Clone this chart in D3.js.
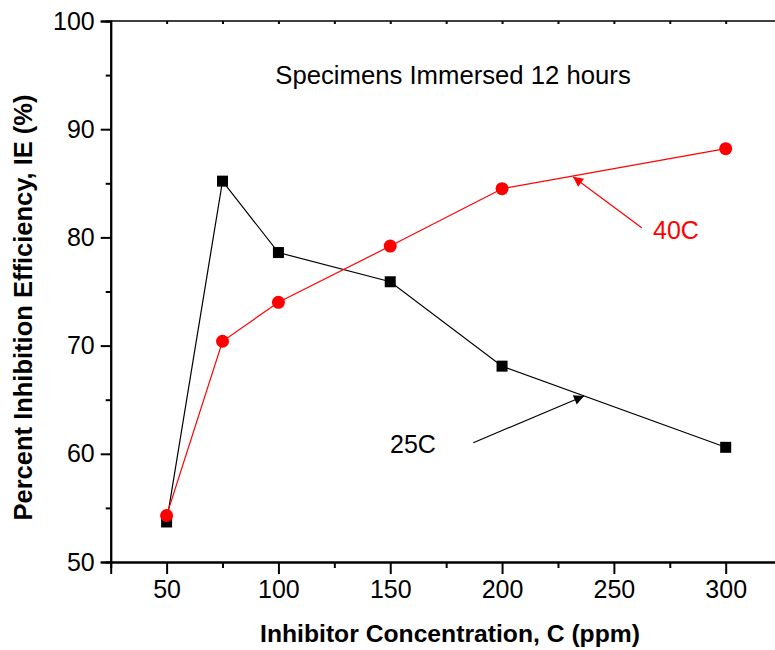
<!DOCTYPE html>
<html><head><meta charset="utf-8">
<script src="https://cdn.jsdelivr.net/npm/d3@7"></script>
<style>body{margin:0;background:#fff}svg{display:block}text{font-family:"Liberation Sans",Arial,sans-serif}</style>
</head><body>
<script>
const concentrations = [50, 75, 100, 150, 200, 300];
const ie25C = [53.7, 85.2, 78.6, 75.9, 68.1, 60.6];
const ie40C = [54.3, 70.4, 74.0, 79.2, 84.5, 88.2];
const xTicks = [50, 100, 150, 200, 250, 300];
const yTicks = [50, 60, 70, 80, 90, 100];

(function(){
const W = 775, H = 650;
const svg = d3.select("body").append("svg").attr("width", W).attr("height", H);
const x = d3.scaleLinear().domain([25, 325]).range([110.7, 781.6]);
const y = d3.scaleLinear().domain([50, 100]).range([562, 21]);

// axes
const xAxis = d3.axisBottom(x).tickValues(xTicks).tickSize(12).tickPadding(6).tickFormat(d3.format("d"));
svg.append("g").attr("transform", `translate(0,${y(50)})`).call(xAxis);
const xMinor = d3.axisBottom(x).tickValues(d3.range(75, 326, 50)).tickSize(6).tickFormat("");
svg.append("g").attr("transform", `translate(0,${y(50)})`).call(xMinor);

const yAxis = d3.axisLeft(y).tickValues(yTicks).tickSize(10).tickPadding(6);
svg.append("g").attr("transform", `translate(${x(25)},0)`).call(yAxis);
const yMinor = d3.axisLeft(y).tickValues(d3.range(55, 100, 10)).tickSize(5).tickFormat("");
svg.append("g").attr("transform", `translate(${x(25)},0)`).call(yMinor);

// top axis with small inward ticks
const topAx = d3.axisBottom(x).tickValues(d3.range(50, 326, 25)).tickSize(3).tickFormat("");
svg.append("g").attr("class","topax").attr("transform", `translate(0,${y(100)})`).call(topAx);

svg.selectAll(".domain").attr("stroke", "#000").attr("stroke-width", 2);
svg.selectAll(".tick line").attr("stroke", "#000").attr("stroke-width", 2);
svg.select(".topax .domain").attr("stroke-width", 1.6).attr("d", `M${x(25)},0H${x(325)}`);
svg.selectAll(".tick text").attr("font-size", 25).attr("fill", "#000").attr("font-family", '"Liberation Sans",Arial,sans-serif');

// axis titles
svg.append("text").attr("x", 450).attr("y", 641.5).attr("text-anchor", "middle")
  .attr("font-size", 24.7).attr("font-weight", "bold").text("Inhibitor Concentration, C (ppm)");
svg.append("text").attr("transform", "translate(32,307.5) rotate(-90)").attr("text-anchor", "middle")
  .attr("font-size", 25.5).attr("font-weight", "bold").text("Percent Inhibition Efficiency, IE (%)");

svg.append("text").attr("x", 453).attr("y", 84).attr("text-anchor", "middle")
  .attr("font-size", 25.7).text("Specimens Immersed 12 hours");

// series
const line = (vals) => d3.line().x((d, i) => x(concentrations[i])).y(d => y(d))(vals);
svg.append("path").attr("d", line(ie25C)).attr("fill", "none").attr("stroke", "#000").attr("stroke-width", 1.2);
svg.append("path").attr("d", line(ie40C)).attr("fill", "none").attr("stroke", "#ff0000").attr("stroke-width", 1.2);
svg.selectAll(".sq").data(ie25C).enter().append("rect")
  .attr("x", (d, i) => x(concentrations[i]) - 5.5).attr("y", d => y(d) - 5.5)
  .attr("width", 11).attr("height", 11).attr("fill", "#000");
svg.selectAll(".ci").data(ie40C).enter().append("circle")
  .attr("cx", (d, i) => x(concentrations[i])).attr("cy", d => y(d)).attr("r", 6.5).attr("fill", "#ff0000");

// annotations
const defs = svg.append("defs");
function marker(id, color) {
  defs.append("marker").attr("id", id).attr("viewBox", "0 0 10 10").attr("refX", 10).attr("refY", 5)
    .attr("markerWidth", 15).attr("markerHeight", 10).attr("markerUnits", "userSpaceOnUse").attr("orient", "auto")
    .append("path").attr("d", "M0,0L10,5L0,10Z").attr("fill", color);
}
marker("ab", "#000"); marker("ar", "#ff0000");
svg.append("line").attr("x1", 473.3).attr("y1", 442.7).attr("x2", 584).attr("y2", 396)
  .attr("stroke", "#000").attr("stroke-width", 1.2).attr("marker-end", "url(#ab)");
svg.append("line").attr("x1", 641.7).attr("y1", 227.7).attr("x2", 573).attr("y2", 176.7)
  .attr("stroke", "#ff0000").attr("stroke-width", 1.2).attr("marker-end", "url(#ar)");
svg.append("text").attr("x", 390).attr("y", 452.5).attr("font-size", 25).text("25C");
svg.append("text").attr("x", 653).attr("y", 239).attr("font-size", 25).attr("fill", "#ff0000").text("40C");
})();
</script>
</body></html>
